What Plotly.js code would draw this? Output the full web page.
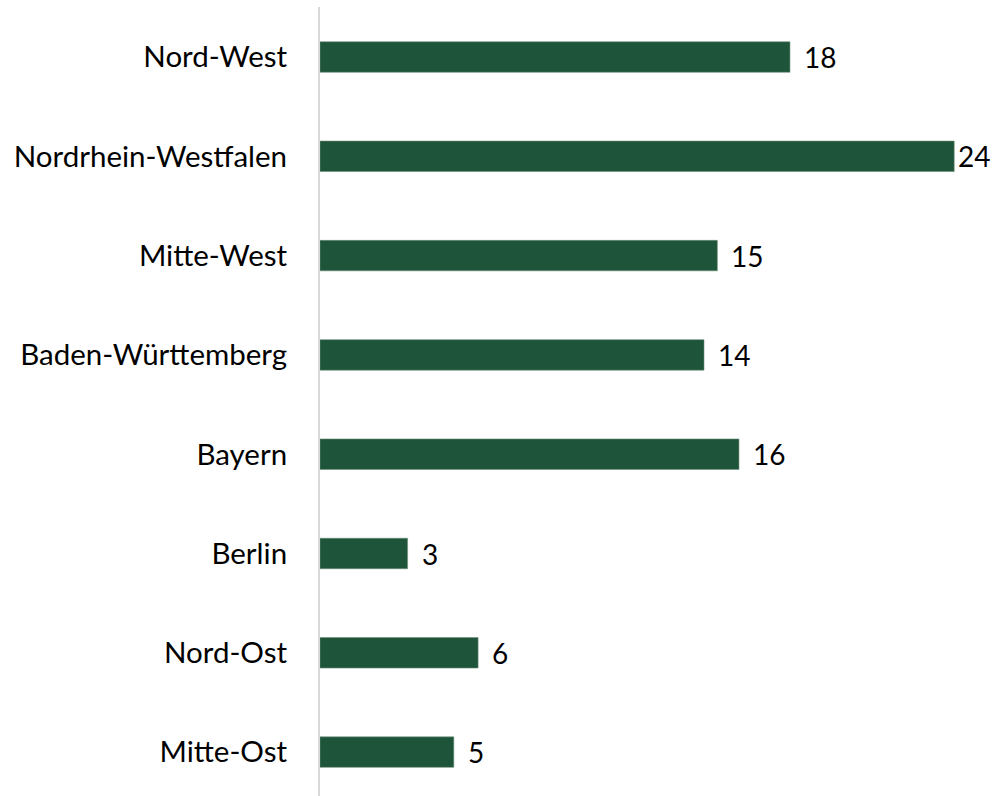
<!DOCTYPE html>
<html>
<head>
<meta charset="utf-8">
<script src="https://cdn.plot.ly/plotly-3.0.1.min.js"></script>
<style>html,body{margin:0;padding:0;background:#fff;}#chart{width:994px;height:796px;}</style>
</head>
<body>
<div id="chart"></div>
<script>
const categories = ["Nord-West","Nordrhein-Westfalen","Mitte-West","Baden-Württemberg","Bayern","Berlin","Nord-Ost","Mitte-Ost"];
const values = [17.6, 23.75, 14.88, 14.38, 15.69, 3.28, 5.92, 5.01];

const FONT = "Lato, 'Open Sans', sans-serif";
const maxV = Math.max(...values);

const trace = {
  type: "bar",
  orientation: "h",
  y: categories,
  x: values,
  width: 0.307,
  marker: {color: "#1e5439", line: {color: "#6f8f7e", width: 0.6}},
  hoverinfo: "none"
};

const annotations = categories.map((c, i) => ({
  x: values[i], y: c, xref: "x", yref: "y",
  text: String(Math.round(values[i])),
  showarrow: false, xanchor: "left", yanchor: "middle",
  xshift: values[i] > 0.95 * maxV ? 2 : 12,
  font: {family: FONT, size: 28, color: "#000"}
}));

const layout = {
  width: 994, height: 796,
  margin: {l: 320, r: 0, t: 7, b: 0, pad: 0},
  paper_bgcolor: "#fff", plot_bgcolor: "#fff",
  showlegend: false,
  xaxis: {range: [0, 25.24], visible: false, fixedrange: true},
  yaxis: {
    type: "category",
    range: [7.442, -0.5035],
    showline: true, linecolor: "#d9d9d9", linewidth: 2,
    showgrid: false, zeroline: false,
    ticks: "", ticklabelstandoff: 25,
    tickfont: {family: FONT, size: 29.5, color: "#000"},
    fixedrange: true
  },
  annotations: annotations
};

Plotly.newPlot("chart", [trace], layout, {displayModeBar: false, staticPlot: true});
</script>
</body>
</html>
